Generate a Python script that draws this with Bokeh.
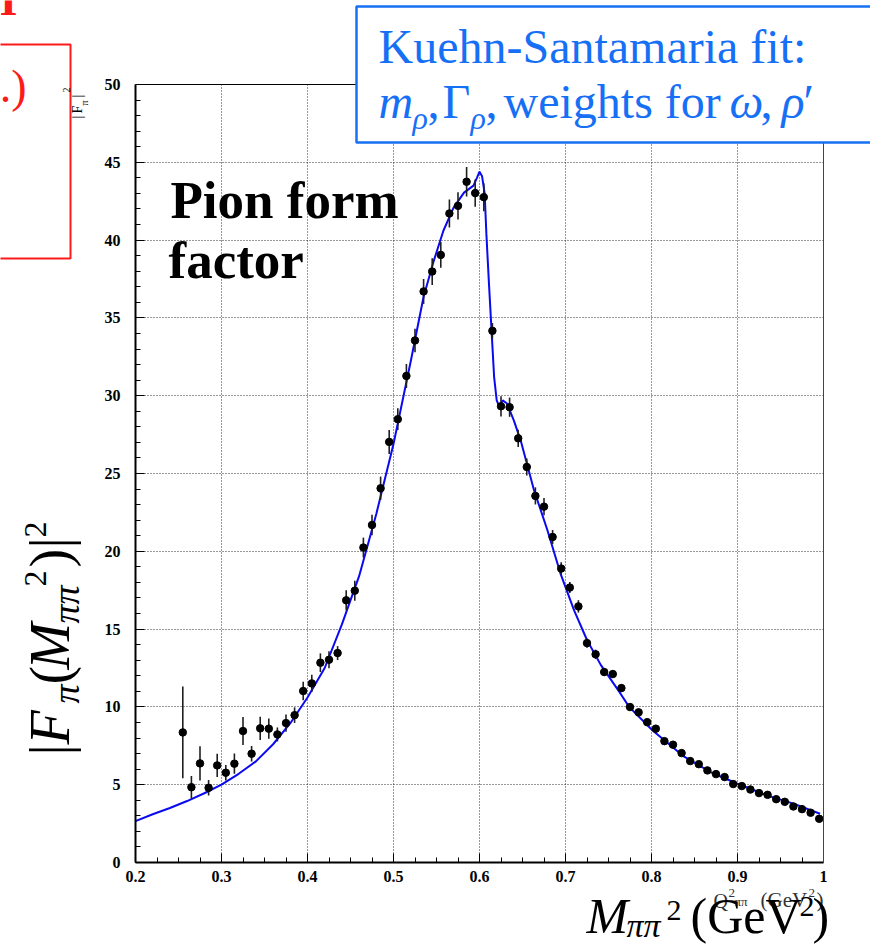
from bokeh.plotting import figure
from bokeh.models import Range1d, FixedTicker, LinearAxis, Label, BoxAnnotation, Grid
from bokeh.embed import file_html
from bokeh.resources import INLINE
import math

# ---------------- data ----------------
X_PTS = [0.255, 0.265, 0.275, 0.285, 0.295, 0.305, 0.315, 0.325, 0.335, 0.345,
         0.355, 0.365, 0.375, 0.385, 0.395, 0.405, 0.415, 0.425, 0.435, 0.445,
         0.455, 0.465, 0.475, 0.485, 0.495, 0.505, 0.515, 0.525, 0.535, 0.545,
         0.555, 0.565, 0.575, 0.585, 0.595, 0.605, 0.615, 0.625, 0.635, 0.645,
         0.655, 0.665, 0.675, 0.685, 0.695, 0.705, 0.715, 0.725, 0.735, 0.745,
         0.755, 0.765, 0.775, 0.785, 0.795, 0.805, 0.815, 0.825, 0.835, 0.845,
         0.855, 0.865, 0.875, 0.885, 0.895, 0.905, 0.915, 0.925, 0.935, 0.945,
         0.955, 0.965, 0.975, 0.985, 0.995]
Y_PTS = [8.36, 4.84, 6.37, 4.80, 6.24, 5.77, 6.35, 8.45, 6.99, 8.62,
         8.60, 8.23, 8.96, 9.47, 11.02, 11.51, 12.84, 13.03, 13.46, 16.85,
         17.47, 20.24, 21.69, 24.05, 27.03, 28.49, 31.27, 33.55, 36.70, 37.98,
         39.05, 41.71, 42.20, 43.75, 43.02, 42.76, 34.17, 29.32, 29.26, 27.26,
         25.42, 23.56, 22.87, 20.92, 18.89, 17.67, 16.46, 14.10, 13.38, 12.24,
         12.11, 11.21, 9.99, 9.65, 9.02, 8.60, 7.80, 7.57, 7.03, 6.52,
         6.32, 5.92, 5.68, 5.49, 5.04, 4.91, 4.69, 4.46, 4.35, 4.07,
         3.90, 3.60, 3.43, 3.20, 2.81]
Y_ERR = [2.95, 0.72, 1.10, 0.50, 0.75, 0.50, 0.65, 0.90, 0.50, 0.75,
         0.65, 0.45, 0.55, 0.50, 0.60, 0.55, 0.60, 0.55, 0.45, 0.64,
         0.64, 0.64, 0.66, 0.75, 0.77, 0.70, 0.77, 0.75, 0.80, 0.86,
         0.83, 0.90, 0.88, 0.94, 0.88, 0.90, 0.50, 0.65, 0.62, 0.55,
         0.55, 0.55, 0.55, 0.45, 0.40, 0.35, 0.40, 0.30, 0.30, 0.25,
         0.25, 0.22, 0.20, 0.20, 0.18, 0.18, 0.16, 0.16, 0.15, 0.14,
         0.14, 0.13, 0.13, 0.12, 0.12, 0.11, 0.11, 0.10, 0.10, 0.10,
         0.10, 0.09, 0.09, 0.09, 0.09]

FIT_X = [0.200, 0.220, 0.240, 0.260, 0.280, 0.300, 0.320, 0.340, 0.360, 0.380,
         0.400, 0.420, 0.440, 0.460, 0.480, 0.500, 0.520, 0.535, 0.547, 0.558,
         0.570, 0.582, 0.593, 0.597, 0.600, 0.603, 0.606, 0.608, 0.611, 0.614,
         0.617, 0.620, 0.623, 0.627, 0.632, 0.640, 0.648, 0.663, 0.679, 0.694,
         0.710, 0.725, 0.741, 0.764, 0.774, 0.801, 0.838, 0.869, 0.900, 0.935,
         0.966, 0.996]
FIT_Y = [2.66, 3.10, 3.50, 3.95, 4.45, 5.00, 5.70, 6.50, 7.60, 8.95,
         10.60, 12.50, 15.30, 18.40, 22.40, 26.90, 32.20, 36.36, 38.70, 40.60,
         42.10, 43.05, 43.50, 44.00, 44.40, 44.10, 43.00, 40.40, 37.20, 34.20,
         31.20, 29.70, 29.30, 29.70, 29.50, 28.40, 27.10, 24.00, 21.35, 18.60,
         16.20, 14.30, 12.70, 10.85, 10.00, 8.50, 6.80, 5.80, 5.06, 4.30,
         3.77, 3.13]

X_TICKS = [0.2, 0.3, 0.4, 0.5, 0.6, 0.7, 0.8, 0.9, 1.0]
X_TICK_LABELS = ["0.2", "0.3", "0.4", "0.5", "0.6", "0.7", "0.8", "0.9", "1"]
Y_TICKS = [0, 5, 10, 15, 20, 25, 30, 35, 40, 45, 50]
Y_TICK_LABELS = ["0", "5", "10", "15", "20", "25", "30", "35", "40", "45", "50"]

# ---------------- layout helpers ----------------
W, H = 870, 946
X0PX, X1PX = 135, 823        # canvas px of x = 0.2 and x = 1.0
Y0PX, Y1PX = 862, 84         # canvas px of y = 0 and y = 50
KX = (X1PX - X0PX) / 0.8
KY = (Y0PX - Y1PX) / 50.0
SERIF = "Liberation Serif"
BLUE = "#1670f5"
RED = "#ff1a1a"
BASE_SHIFT = 0.35            # empirical shift of an 'alphabetic' label anchor


def px2x(px):
    return 0.2 + (px - X0PX) / KX


def py2y(py):
    return (Y0PX - py) / KY


# the frame covers the whole canvas; axes sit at fixed data positions
p = figure(width=W, height=H,
           x_range=Range1d(px2x(0), px2x(W)), y_range=Range1d(py2y(H), py2y(0)),
           output_backend="svg", toolbar_location=None,
           min_border_left=0, min_border_right=0, min_border_top=0, min_border_bottom=0)
p.background_fill_color = "white"
p.border_fill_color = "white"
p.outline_line_color = None

x_minor = [round(0.2 + 0.025 * i, 4) for i in range(33) if i % 4]
y_minor = [i for i in range(51) if i % 5]

xa = p.xaxis[0]
xa.fixed_location = 0
xa.bounds = (0.2, 1.0)
xa.ticker = FixedTicker(ticks=X_TICKS, minor_ticks=x_minor)
xa.major_label_overrides = dict(zip(X_TICKS, X_TICK_LABELS))
ya = p.yaxis[0]
ya.fixed_location = 0.2
ya.bounds = (0, 50)
ya.ticker = FixedTicker(ticks=Y_TICKS, minor_ticks=y_minor)
ya.major_label_overrides = dict(zip(Y_TICKS, Y_TICK_LABELS))
for ax, so in ((xa, 8), (ya, 15)):
    ax.axis_line_width = 2
    ax.axis_line_color = "black"
    ax.major_tick_in = 9
    ax.major_tick_out = 0
    ax.minor_tick_in = 5
    ax.minor_tick_out = 0
    ax.major_tick_line_color = "black"
    ax.minor_tick_line_color = "black"
    ax.major_label_text_font = SERIF
    ax.major_label_text_font_style = "bold"
    ax.major_label_text_font_size = "16px"
    ax.major_label_text_color = "black"
    ax.major_label_standoff = so

# top and right frame edges
top_ax = LinearAxis(fixed_location=50, bounds=(0.2, 1.0), ticker=FixedTicker(ticks=[]),
                    major_label_text_font_size="0px", major_tick_in=0, major_tick_out=0,
                    minor_tick_in=0, minor_tick_out=0, axis_line_width=1, axis_line_color="black")
p.add_layout(top_ax, "above")
right_ax = LinearAxis(fixed_location=1.0, bounds=(0, 50), ticker=FixedTicker(ticks=[]),
                      major_label_text_font_size="0px", major_tick_in=0, major_tick_out=0,
                      minor_tick_in=0, minor_tick_out=0, axis_line_width=1, axis_line_color="#444444")
p.add_layout(right_ax, "right")

# dotted grid limited to the data area
if "cross_bounds" in Grid.properties():
    p.xgrid.ticker = FixedTicker(ticks=X_TICKS[1:-1])
    p.ygrid.ticker = FixedTicker(ticks=Y_TICKS[1:-1])
    p.xgrid.bounds = (0.2, 1.0)
    p.xgrid.cross_bounds = (0, 50)
    p.ygrid.bounds = (0, 50)
    p.ygrid.cross_bounds = (0.2, 1.0)
    for g in (p.xgrid, p.ygrid):
        g.grid_line_color = "black"
        g.grid_line_alpha = 0.8
        g.grid_line_dash = "1 2"
        g.grid_line_width = 1
else:
    p.grid.visible = False
    gx = X_TICKS[1:-1]
    gy = Y_TICKS[1:-1]
    p.segment(gx, [0] * len(gx), gx, [50] * len(gx), line_color="black",
              line_alpha=0.8, line_dash="1 2", line_width=1)
    p.segment([0.2] * len(gy), gy, [1.0] * len(gy), gy, line_color="black",
              line_alpha=0.8, line_dash="1 2", line_width=1)

# ---------------- marks ----------------
p.line(FIT_X, FIT_Y, line_color="#0a0af0", line_width=2)
lo = [y - e for y, e in zip(Y_PTS, Y_ERR)]
hi = [y + e for y, e in zip(Y_PTS, Y_ERR)]
p.segment(X_PTS, lo, X_PTS, hi, line_color="#202020", line_width=1.6)
p.scatter(X_PTS, Y_PTS, size=7.5, fill_color="black", line_color="black")


def lab(text, px, py, size, style="normal", color="black", angle=0.0, align="left"):
    """(px, py): wanted baseline start, in canvas pixels."""
    if angle:
        ax_, ay_ = px - BASE_SHIFT * size, py
    else:
        ax_, ay_ = px, py - BASE_SHIFT * size
    p.add_layout(Label(x=px2x(ax_), y=py2y(ay_), text=text, text_font=SERIF,
                       text_font_size=f"{size}px", text_font_style=style,
                       text_color=color, angle=angle, text_align=align,
                       text_baseline="alphabetic"))


# red fragment of the slide (left)
p.add_layout(BoxAnnotation(left=px2x(-80), right=px2x(70), top=py2y(44), bottom=py2y(258),
                           fill_alpha=0, line_color=RED, line_alpha=1.0, line_width=2))
lab("I", -1, 15, 46, "bold", RED)
lab(".)", 26, 102, 46, "normal", RED, align="right")

# small ROOT axis title |F_pi|^2 (rotated)
R = math.pi / 2
lab("|", 82, 118, 14, angle=R)
lab("F", 82, 113, 14, angle=R)
lab("π", 87, 105, 10, angle=R)
lab("|", 82, 97, 14, angle=R)
lab("2", 69, 92, 10, angle=R)

# small ROOT x title Q2pipi (GeV2)
SC = "#333333"
lab("Q", 713, 907, 20, color=SC)
lab("2", 728, 897, 13, color=SC)
lab("ππ", 734, 906, 13, color=SC)
lab("(GeV", 760, 907, 21, color=SC)
lab("2", 808, 897, 13, color=SC)
lab(")", 816, 907, 21, color=SC)

# big y label |F_pi(M_pipi^2)|^2
YL = 8   # shift upward
lab("|", 69, 763 - YL, 56, angle=R)
lab("F", 69, 752 - YL, 56, "italic", angle=R)
lab("π", 79, 711 - YL, 38, "italic", angle=R)
lab("(", 69, 692 - YL, 56, angle=R)
lab("M", 69, 677 - YL, 56, "italic", angle=R)
lab("ππ", 79, 631 - YL, 38, "italic", angle=R)
lab("2", 46, 594 - YL, 32, angle=R)
lab(")", 69, 575 - YL, 56, angle=R)
lab("|", 69, 556 - YL, 56, angle=R)
lab("2", 46, 545 - YL, 32, angle=R)

# big x label M_pipi^2 (GeV^2)
lab("M", 586, 933, 50, "italic")
lab("ππ", 626, 937, 34, "italic")
lab("2", 666, 920, 30)
lab("(GeV", 690, 933, 50)
lab("2", 799, 916, 30)
lab(")", 812, 933, 50)

# Pion form factor
lab("Pion form", 170, 218, 53, "bold")
lab("factor", 168, 278, 53, "bold")

# blue box
p.add_layout(BoxAnnotation(left=px2x(356), right=px2x(920), top=py2y(6), bottom=py2y(142),
                           fill_color="white", fill_alpha=1.0,
                           line_color=BLUE, line_alpha=1.0, line_width=2.5))
lab("Kuehn-Santamaria fit:", 378, 63, 48, color=BLUE)
lab("m", 378, 118, 48, "italic", BLUE)
lab("ρ", 412, 129, 32, "italic", BLUE)
lab(",", 427, 118, 48, color=BLUE)
lab("Γ", 442, 118, 48, color=BLUE)
lab("ρ", 470, 129, 32, "italic", BLUE)
lab(",", 485, 118, 48, color=BLUE)
lab("weights for", 503, 118, 48, color=BLUE)
lab("ω", 729, 118, 48, "italic", BLUE)
lab(",", 760, 118, 48, color=BLUE)
lab("ρ", 781, 118, 48, "italic", BLUE)
lab("′", 803, 118, 48, color=BLUE)

open("out.html", "w").write(file_html(p, INLINE))
